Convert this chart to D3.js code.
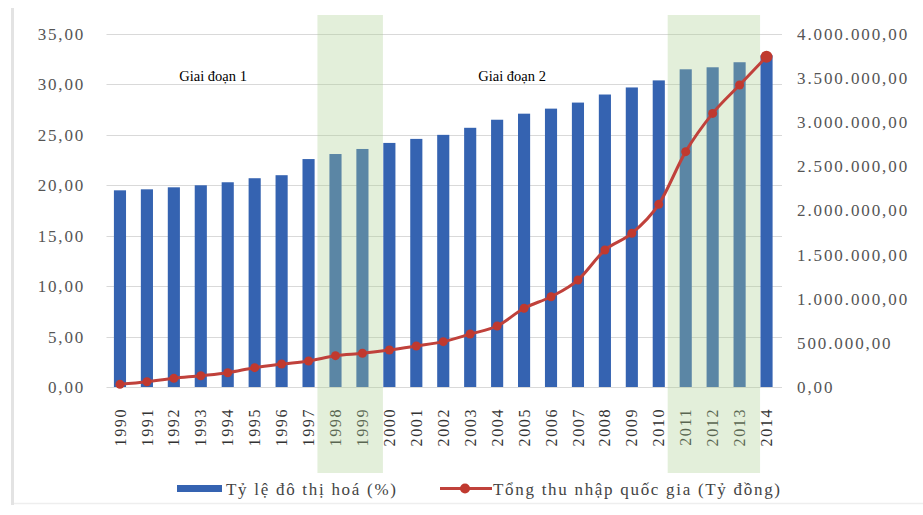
<!DOCTYPE html>
<html><head><meta charset="utf-8">
<script src="https://cdn.jsdelivr.net/npm/d3@7"></script>
<style>body{margin:0;background:#fff}svg{display:block}</style>
</head><body>
<svg id="c" width="923" height="515"></svg>
<script>
const years = [1990,1991,1992,1993,1994,1995,1996,1997,1998,1999,2000,2001,2002,2003,2004,2005,2006,2007,2008,2009,2010,2011,2012,2013,2014];
const urbanRate = [19.5,19.6,19.8,20.0,20.3,20.7,21.0,22.6,23.1,23.6,24.2,24.6,25.0,25.7,26.5,27.1,27.6,28.2,29.0,29.7,30.4,31.5,31.7,32.2,32.9];
const gni = [30000,60000,98000,128000,162000,219000,260000,295000,355000,382000,419000,465000,514000,600000,691000,892000,1023000,1212000,1552000,1741000,2070000,2667000,3100000,3422000,3743000];
const leftTicks = [0,5,10,15,20,25,30,35];
const rightTicks = [0,500000,1000000,1500000,2000000,2500000,3000000,3500000,4000000];
const shadedPeriods = [[1998,1999],[2011,2013]];
const phaseLabels = [{text:"Giai đoạn 1", year:1992.2},{text:"Giai đoạn 2", year:2003.3}];
const seriesNames = ["Tỷ lệ đô thị hoá (%)","Tổng thu nhập quốc gia (Tỷ đồng)"];

const svg = d3.select("#c");
const L = 106.5, R = 780, T = 34, B = 387;
const x = d3.scaleBand().domain(years).range([L, R]).paddingInner(0.55).paddingOuter(0.275);
const yL = d3.scaleLinear().domain([0,35]).range([B,T]);
const yR = d3.scaleLinear().domain([0,4000000]).range([B,T]);
const cx = d => x(d) + x.bandwidth()/2;
const step = x.step();

// frame lines
svg.append("line").attr("x1",12.5).attr("x2",12.5).attr("y1",8).attr("y2",505).attr("stroke","#e3e3e3").attr("stroke-width",3);
svg.append("line").attr("x1",14).attr("x2",923).attr("y1",503.5).attr("y2",503.5).attr("stroke","#eeeeee").attr("stroke-width",1.5);

// gridlines
svg.append("g").selectAll("line").data(leftTicks).join("line")
  .attr("x1",L).attr("x2",782).attr("y1",d=>Math.round(yL(d))+0.5).attr("y2",d=>Math.round(yL(d))+0.5)
  .attr("stroke","#d9d9d9").attr("stroke-width",1.2);

const fmtL = d => d3.format(".2f")(d).replace(".",",");
const fmtR = d => d3.format(",.2f")(d).replace(/,/g,"#").replace(".",",").replace(/#/g,".");

// left axis
const axL = d3.axisLeft(yL).tickValues(leftTicks).tickFormat(fmtL).tickSize(0).tickPadding(0);
const gL = svg.append("g").attr("transform","translate(85,0)").call(axL);
gL.select(".domain").remove();
gL.selectAll("text").attr("font-family","Liberation Serif").attr("font-size",17).attr("fill","#555").attr("letter-spacing","1.8px").attr("dy","0.32em");

// right axis
const axR = d3.axisRight(yR).tickValues(rightTicks).tickFormat(fmtR).tickSize(0).tickPadding(0);
const gR = svg.append("g").attr("transform","translate(797,0)").call(axR);
gR.select(".domain").remove();
gR.selectAll("text").attr("font-family","Liberation Serif").attr("font-size",17).attr("fill","#555").attr("letter-spacing","1.9px").attr("dy","0.32em");

// bars
svg.append("g").selectAll("rect").data(years).join("rect")
  .attr("x",d=>x(d)).attr("width",x.bandwidth())
  .attr("y",(d,i)=>yL(urbanRate[i])).attr("height",(d,i)=>B-yL(urbanRate[i]))
  .attr("fill","#3563b1");

// x axis labels
const axX = d3.axisBottom(x).tickSize(0).tickPadding(0);
const gX = svg.append("g").attr("transform",`translate(0,${B})`).call(axX);
gX.select(".domain").remove();
gX.selectAll("text").attr("font-family","Liberation Serif").attr("font-size",16).attr("fill","#333")
  .attr("letter-spacing","1.6px")
  .attr("transform","translate(0,21) rotate(-90)").attr("text-anchor","end").attr("dy","0.35em").attr("y",0).attr("x",0);

// shaded periods (overlay)
svg.append("g").selectAll("rect").data(shadedPeriods).join("rect")
  .attr("x",d=>cx(d[0]) - step*0.67).attr("width",d=>cx(d[1]) - cx(d[0]) + step*1.43)
  .attr("y",15).attr("height",458)
  .attr("fill","rgb(170,206,143)").attr("opacity",0.33);

// line
const line = d3.line().x((d,i)=>cx(years[i])).y(d=>yR(d)).curve(d3.curveMonotoneX);
svg.append("path").datum(gni).attr("d",line).attr("fill","none").attr("stroke","#c0413b").attr("stroke-width",3);
svg.append("g").selectAll("circle").data(gni).join("circle")
  .attr("cx",(d,i)=>cx(years[i])).attr("cy",d=>yR(d)).attr("r",(d,i)=>i===gni.length-1?6:4.5).attr("fill","#c0392f");

// phase labels
svg.append("g").selectAll("text").data(phaseLabels).join("text")
  .attr("x",d=>cx(1990)+(d.year-1990)*step).attr("y",81).text(d=>d.text)
  .attr("font-family","Liberation Serif").attr("font-size",14.5).attr("fill","#000");

// legend
const lg = svg.append("g");
lg.append("rect").attr("x",177).attr("y",485).attr("width",45).attr("height",7).attr("fill","#3563b1");
lg.append("text").attr("x",226).attr("y",495).text(seriesNames[0]).attr("font-family","Liberation Serif").attr("font-size",17).attr("fill","#444").attr("textLength",170).attr("lengthAdjust","spacing");
lg.append("line").attr("x1",440).attr("x2",492).attr("y1",488.5).attr("y2",488.5).attr("stroke","#c0413b").attr("stroke-width",3);
lg.append("circle").attr("cx",465).attr("cy",488.5).attr("r",5).attr("fill","#c0392f");
lg.append("text").attr("x",493).attr("y",495).text(seriesNames[1]).attr("font-family","Liberation Serif").attr("font-size",17).attr("fill","#444").attr("textLength",287).attr("lengthAdjust","spacing");
</script>
</body></html>
